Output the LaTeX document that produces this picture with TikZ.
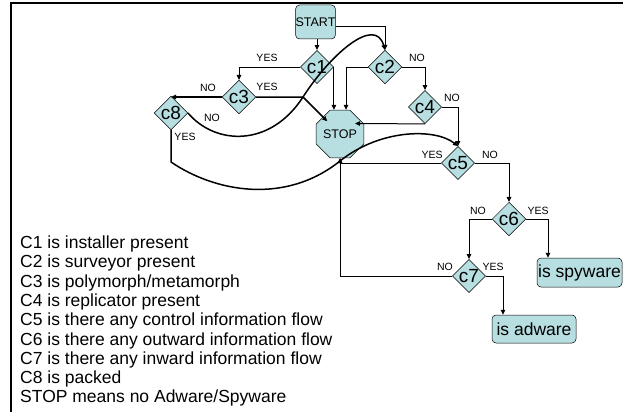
\documentclass[tikz,border=0pt]{standalone}
\usepackage{fontspec}
\setmainfont{Liberation Sans}
\usetikzlibrary{shapes.geometric,arrows.meta,calc}
\definecolor{boxfill}{RGB}{183,222,224}
\begin{document}
\begin{tikzpicture}[x=1pt,y=-1pt,
  dec/.style={diamond,draw=black,line width=0.5pt,fill=boxfill,minimum width=33pt,minimum height=33pt,inner sep=0pt,font=\fontsize{19}{19}\selectfont},
  res/.style={rectangle,rounded corners=4pt,draw=black,line width=0.5pt,fill=boxfill,inner sep=0pt,font=\fontsize{17.5}{17.5}\selectfont},
  lab/.style={inner sep=0pt,font=\fontsize{10.5}{10.5}\selectfont},
  conn/.style={line width=1pt,-{Triangle[length=5pt,width=4.5pt]}},
  thick conn/.style={conn,line width=1.5pt},
  legend/.style={anchor=base west,inner sep=0pt,font=\fontsize{17.5}{17.5}\selectfont}
]
\useasboundingbox (0,0) rectangle (623,412);
% frame
\draw[line width=2pt] (11,412) -- (11,3) -- (623,3);

% nodes
\node[res,minimum width=39pt,minimum height=34pt,font=\fontsize{12.5}{12.5}\selectfont] (start) at (315.5,22) {START};
\node[dec] (c1) at (317,67) {c1};
\node[dec] (c2) at (385,67) {c2};
\node[dec] (c3) at (239,97) {c3};
\node[dec] (c8) at (171,113) {c8};
\node[dec] (c4) at (425,107) {c4};
\node[regular polygon,regular polygon sides=8,draw=black,line width=0.5pt,fill=boxfill,minimum size=39pt,inner sep=0pt,font=\fontsize{12.5}{12.5}\selectfont] (stop) at (340,134) {STOP};
\node[dec] (c5) at (458,163) {c5};
\node[dec] (c6) at (509,219) {c6};
\node[dec] (c7) at (469,276) {c7};
\node[res,minimum width=85pt,minimum height=29pt] (spy) at (579.5,272.5) {is spyware};
\node[res,minimum width=84pt,minimum height=28pt] (adw) at (534,329) {is adware};

% helper coordinates
\coordinate (k1) at (303,97);
\coordinate (k2) at (171,162);
\coordinate (k3) at (340,161);

% connectors
\draw[conn] (c1.north |- start.south) -- (c1.north);
\draw[conn] ([yshift=-5pt]start.east) -| (c2.north);
\draw[conn] (c1.west) -| (c3.north);
\draw[conn] (c1.east) -- (c1.east |- stop.north);
\draw[conn] (c2.west) -| ([xshift=6pt]stop.north);
\draw[conn] (c2.east) -| (c4.north);
\draw[conn] (c4.south) -- ($(stop.center)+(15,-10.5)$);
\draw[conn] (c4.east) -| (c5.north);
\draw[thick conn] (c3.west) -- (c3.west -| c8.north);
\draw[thick conn] (c3.east) -- ++(47,0) -- ($(stop.center)+(-12.7,-12.7)$);
\draw[thick conn] (c8.east) .. controls (215,145) and (270,148) .. (k1) .. controls (330,55) and (375,15) .. (c2.north);
\draw[thick conn] (c8.south) -- (k2) .. controls (215,192) and (285,205) .. (k3) .. controls (380,129) and (435,128) .. (c5.north);
\draw[conn] (c5.west) -| (stop.south);
\draw[conn] (c7.west) -| (stop.south);
\draw[conn] (c5.east) -| (c6.north);
\draw[conn] (c6.west) -| (c7.north);
\draw[conn] (c6.east) -| ([xshift=-31.5pt]spy.north);
\draw[conn] (c7.east) -| ([xshift=-31pt]adw.north);

% branch labels
\node[lab] (l1) at (267,58) {YES};
\node[lab] (l2) at (417,58) {NO};
\node[lab] (l3) at (208,88) {NO};
\node[lab] (l4) at (267,87) {YES};
\node[lab] (l5) at (212,118) {NO};
\node[lab] (l6) at (185,137) {YES};
\node[lab] (l7) at (452,98) {NO};
\node[lab] (l8) at (432,155) {YES};
\node[lab] (l9) at (490,155) {NO};
\node[lab] (l10) at (478,211) {NO};
\node[lab] (l11) at (538,211) {YES};
\node[lab] (l12) at (445,267) {NO};
\node[lab] (l13) at (493,267) {YES};

% legend
\node[legend] (t1) at (20,248.5) {C1 is installer present};
\node[legend] (t2) at (20,267.8) {C2 is surveyor present};
\node[legend] (t3) at (20,287.1) {C3 is polymorph/metamorph};
\node[legend] (t4) at (20,306.4) {C4 is replicator present};
\node[legend] (t5) at (20,325.7) {C5 is there any control information flow};
\node[legend] (t6) at (20,345.0) {C6 is there any outward information flow};
\node[legend] (t7) at (20,364.3) {C7 is there any inward information flow};
\node[legend] (t8) at (20,383.6) {C8 is packed};
\node[legend] (t9) at (20,402.9) {STOP means no Adware/Spyware};
\end{tikzpicture}
\end{document}
